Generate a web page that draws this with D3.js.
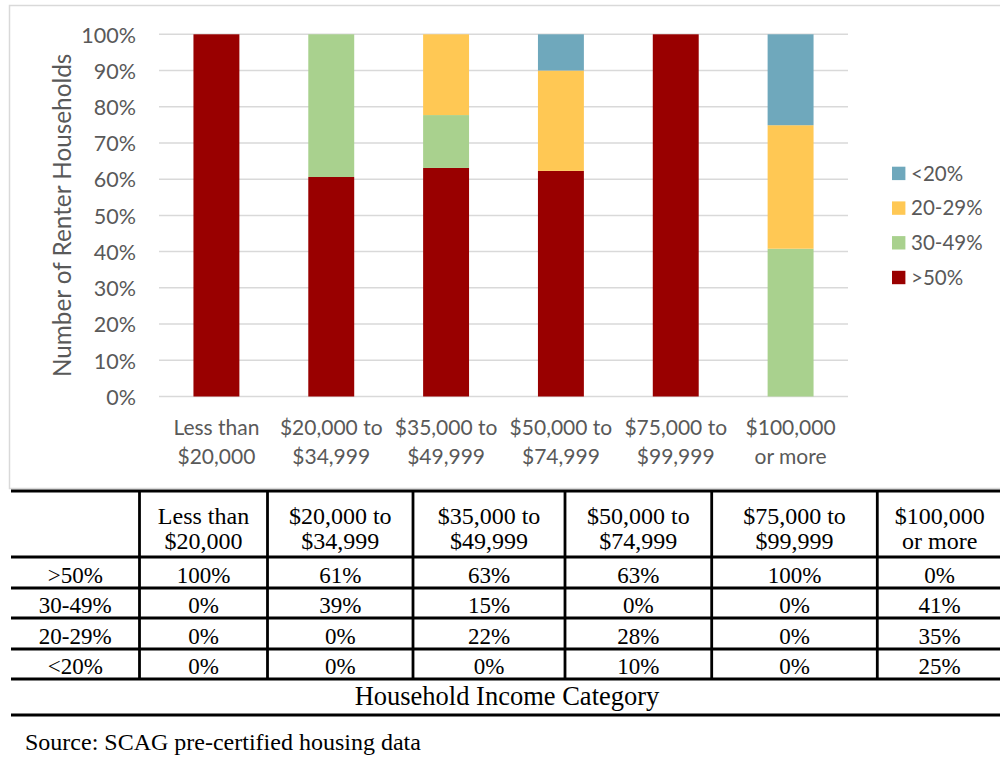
<!DOCTYPE html>
<html><head><meta charset="utf-8">
<script src="https://cdn.jsdelivr.net/npm/d3@7/dist/d3.min.js"></script>
<style>body{margin:0;background:#fff}svg{display:block}</style>
</head><body><svg id="c" width="1000" height="759"></svg>
<script>
// ---- data ----
const categories = ["Less than\n$20,000", "$20,000 to\n$34,999", "$35,000 to\n$49,999", "$50,000 to\n$74,999", "$75,000 to\n$99,999", "$100,000\nor more"];
const seriesNames = [">50%", "30-49%", "20-29%", "<20%"];
const over50   = [100, 60.6, 63.1, 62.3, 100, 0];
const pct30_49 = [0, 39.4, 14.6, 0, 0, 40.8];
const pct20_29 = [0, 0, 22.3, 27.7, 0, 34.1];
const under20  = [0, 0, 0, 10.0, 0, 25.1];
const yTicks = [0, 10, 20, 30, 40, 50, 60, 70, 80, 90, 100];
const tableLabels = [">50%", "30-49%", "20-29%", "<20%"];
const tableOver50   = ["100%", "61%", "63%", "63%", "100%", "0%"];
const tableP30_49   = ["0%", "39%", "15%", "0%", "0%", "41%"];
const tableP20_29   = ["0%", "0%", "22%", "28%", "0%", "35%"];
const tableUnder20  = ["0%", "0%", "0%", "10%", "0%", "25%"];
const tableCaption = "Household Income Category";
const yTitle = "Number of Renter Households";
const sourceText = "Source: SCAG pre-certified housing data";

// ---- styles ----
const colors = {">50%": "#990000", "30-49%": "#a9d18e", "20-29%": "#ffc854", "<20%": "#6fa8bc"};
const gray = "#595959";
const sans = "Lato, 'Open Sans', sans-serif";
const serif = "'Liberation Serif', 'Times New Roman', serif";

const svg = d3.select("#c");

// chart frame
svg.append("rect").attr("x", 9.5).attr("y", 5.5).attr("width", 995).attr("height", 483)
  .attr("fill", "#fff").attr("stroke", "#d9d9d9").attr("stroke-width", 1.5);

const plot = {left: 159, right: 848, top: 34.3, bottom: 396.5};
const x = d3.scaleBand().domain(categories).range([plot.left, plot.right]).paddingInner(0.6).paddingOuter(0.3);
const y = d3.scaleLinear().domain([0, 100]).range([plot.bottom, plot.top]);

// gridlines
svg.append("g").selectAll("line").data(yTicks).join("line")
  .attr("x1", plot.left).attr("x2", plot.right)
  .attr("y1", d => y(d)).attr("y2", d => y(d))
  .attr("stroke", "#d9d9d9").attr("stroke-width", 1.5);

// y axis labels
const yAxis = svg.append("g").attr("transform", `translate(${plot.left - 23},0)`)
  .call(d3.axisLeft(y).tickValues(yTicks).tickFormat(d => d + "%").tickSize(0).tickPadding(0));
yAxis.select(".domain").remove();
yAxis.selectAll("text").attr("fill", gray).style("font-family", sans).style("font-size", "21.5px").attr("dy", "0.36em");

// stacked bars
const rows = categories.map((c, i) => ({cat: c, ">50%": over50[i], "30-49%": pct30_49[i], "20-29%": pct20_29[i], "<20%": under20[i]}));
const stack = d3.stack().keys(seriesNames)(rows);
svg.append("g").selectAll("g").data(stack).join("g").attr("fill", d => colors[d.key])
  .selectAll("rect").data(d => d).join("rect")
  .attr("x", d => x(d.data.cat)).attr("width", x.bandwidth())
  .attr("y", d => y(d[1])).attr("height", d => y(d[0]) - y(d[1]));

// x labels
const xl = svg.append("g").selectAll("text").data(categories).join("text")
  .attr("x", d => x(d) + x.bandwidth() / 2).attr("y", 435)
  .attr("text-anchor", "middle").attr("fill", gray)
  .style("font-family", sans).style("font-size", "21px");
xl.selectAll("tspan").data(d => d.split("\n")).join("tspan")
  .attr("x", function () { return this.parentNode.getAttribute("x"); })
  .attr("dy", (d, i) => i === 0 ? 0 : 29).text(d => d);

// y title
svg.append("text").attr("transform", `translate(71,${(plot.top + plot.bottom) / 2}) rotate(-90)`)
  .attr("text-anchor", "middle").attr("fill", gray)
  .style("font-family", sans).style("font-size", "24.3px").text(yTitle);

// legend
const legendOrder = seriesNames.slice().reverse();
const lg = svg.append("g").selectAll("g").data(legendOrder).join("g")
  .attr("transform", (d, i) => `translate(892,${166.7 + i * 34.7})`);
lg.append("rect").attr("width", 13.4).attr("height", 13.4).attr("fill", d => colors[d]);
lg.append("text").attr("x", 19).attr("y", 6.7).attr("dy", "0.36em").attr("fill", gray)
  .style("font-family", sans).style("font-size", "20.5px").text(d => d);

// ---- table ----
const colEdges = [11, 139.5, 267.5, 413, 565, 711.7, 877.3, 1002];
const rowEdges = [491, 557, 588, 618, 649, 679, 715];
const tbl = svg.append("g");
// horizontal lines
tbl.selectAll("line.h").data(rowEdges).join("line").attr("class", "h")
  .attr("x1", colEdges[0]).attr("x2", colEdges[colEdges.length - 1])
  .attr("y1", d => d).attr("y2", d => d).attr("stroke", "#000").attr("stroke-width", 3.2);
// vertical lines (not in caption row)
tbl.selectAll("line.v").data(colEdges.slice(1, -1)).join("line").attr("class", "v")
  .attr("x1", d => d).attr("x2", d => d).attr("y1", rowEdges[0]).attr("y2", rowEdges[5])
  .attr("stroke", "#000").attr("stroke-width", 2.8);

const colCenter = i => (colEdges[i] + colEdges[i + 1]) / 2;
// header
tbl.selectAll("text.hd").data(categories).join("text").attr("class", "hd")
  .attr("x", (d, i) => colCenter(i + 1)).attr("y", 524)
  .attr("text-anchor", "middle").style("font-family", serif).style("font-size", "24px")
  .selectAll("tspan").data(d => d.split("\n")).join("tspan")
  .attr("x", function () { return this.parentNode.getAttribute("x"); })
  .attr("dy", (d, i) => i === 0 ? 0 : 25).text(d => d);

const tableData = [tableOver50, tableP30_49, tableP20_29, tableUnder20];
tableData.forEach((vals, r) => {
  const base = rowEdges[r + 2] - 5.5;
  const cells = [tableLabels[r]].concat(vals);
  tbl.append("g").selectAll("text").data(cells).join("text")
    .attr("x", (d, i) => colCenter(i)).attr("y", base)
    .attr("text-anchor", "middle").style("font-family", serif).style("font-size", "23px").text(d => d);
});

tbl.append("text").attr("x", 507).attr("y", 705).attr("text-anchor", "middle")
  .style("font-family", serif).style("font-size", "26.5px").text(tableCaption);

svg.append("text").attr("x", 25).attr("y", 750)
  .style("font-family", serif).style("font-size", "24px").text(sourceText);
</script></body></html>
